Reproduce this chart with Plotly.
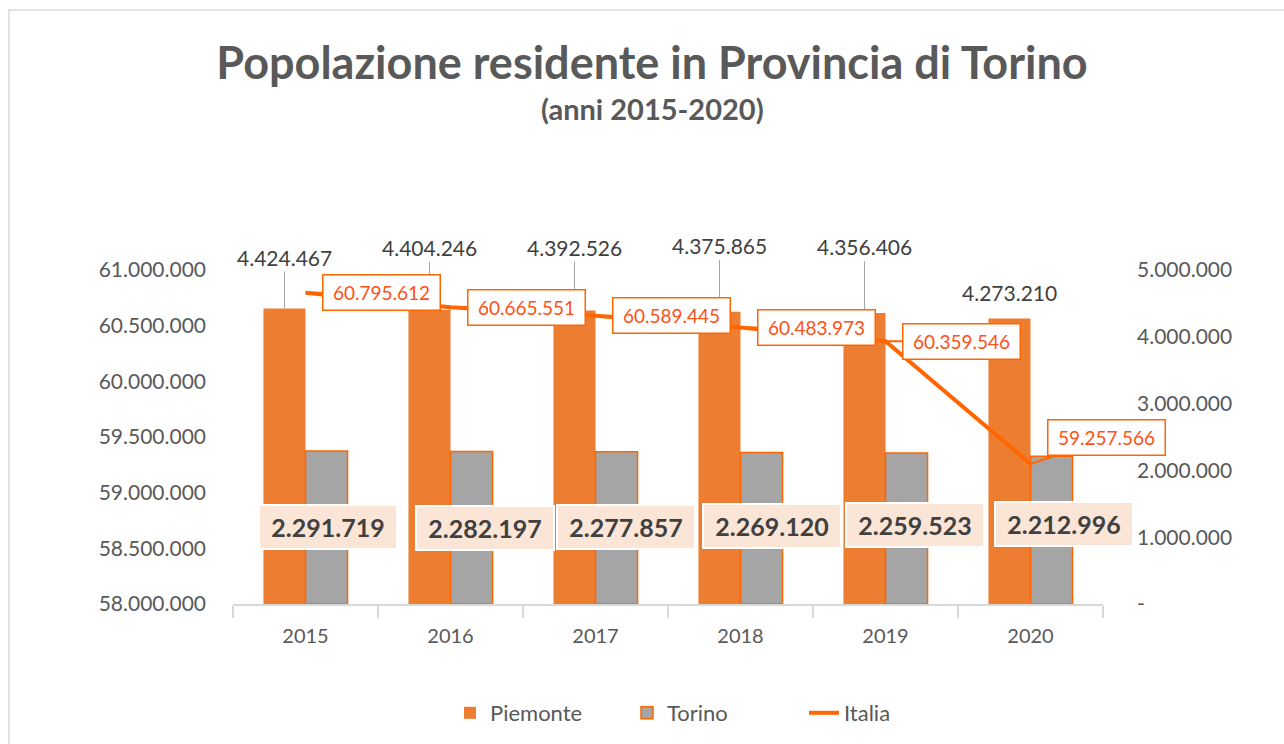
import plotly.graph_objects as go

# ---------------- data ----------------
years = ["2015", "2016", "2017", "2018", "2019", "2020"]
piemonte = [4424467, 4404246, 4392526, 4375865, 4356406, 4273210]
torino = [2291719, 2282197, 2277857, 2269120, 2259523, 2212996]
italia = [60795612, 60665551, 60589445, 60483973, 60359546, 59257566]

left_tickvals = [58000000, 58500000, 59000000, 59500000, 60000000, 60500000, 61000000]
left_ticktext = ["58.000.000", "58.500.000", "59.000.000", "59.500.000",
                 "60.000.000", "60.500.000", "61.000.000"]
right_tickvals = [0, 1000000, 2000000, 3000000, 4000000, 5000000]
right_ticktext = ["-", "1.000.000", "2.000.000", "3.000.000", "4.000.000", "5.000.000"]

# ---------------- style ----------------
FONT = "Lato"
GREY_TXT = "#595959"
DARK_TXT = "#404040"
ORANGE_BAR = "#ED7D31"
ORANGE_LINE = "#FF6600"
ORANGE_TXT = "#FF5015"
GREY_BAR = "#A5A5A5"
AXIS_LINE = "#D9D9D9"

W, H = 1284, 744
L, R, T, B = 233, 1103, 270, 604  # plot area in px

# label offsets (pixels) - style only
piem_leader = [-51, -62, -63, -66, -66, None]
piem_plain_shift = 26
tor_xshift = [22, 34, 30, 31, 29, 33]
tor_yshift = [0, 0, 1, 2, 4, 6]
ita_ax = [76, 76, 76, 76, 76, 76]
ita_ay = [0, 0, 0, 0, 0, -26]


def fmt(v):
    return f"{v:,}".replace(",", ".")


fig = go.Figure()
fig.add_trace(go.Bar(
    name="Piemonte", x=years, y=piemonte, yaxis="y",
    marker=dict(color=ORANGE_BAR, line=dict(width=0)),
    hoverinfo="skip",
))
fig.add_trace(go.Bar(
    name="Torino", x=years, y=torino, yaxis="y",
    marker=dict(color=GREY_BAR, line=dict(color=ORANGE_LINE, width=1.5)),
    hoverinfo="skip",
))
fig.add_trace(go.Scatter(
    name="Italia", x=years, y=italia, yaxis="y2", mode="lines",
    line=dict(color=ORANGE_LINE, width=4),
    hoverinfo="skip",
))

annotations = []
# Piemonte labels with leader lines (x given as category index)
for i, v in enumerate(piemonte):
    if piem_leader[i] is not None:
        annotations.append(dict(
            x=i, y=v, xref="x", yref="y", xshift=-21,
            text=fmt(v), showarrow=True, arrowhead=0, arrowwidth=1,
            arrowcolor="#A6A6A6", ax=0, ay=piem_leader[i], standoff=0,
            font=dict(family=FONT, size=21, color=DARK_TXT),
        ))
    else:
        annotations.append(dict(
            x=i, y=v, xref="x", yref="y", xshift=-21, yshift=piem_plain_shift,
            text=fmt(v), showarrow=False,
            font=dict(family=FONT, size=21, color=DARK_TXT),
        ))

# Torino labels (centre of bar)
for i, v in enumerate(torino):
    annotations.append(dict(
        x=i, y=v / 2, xref="x", yref="y",
        xshift=tor_xshift[i], yshift=tor_yshift[i],
        text="<b>" + fmt(v) + "</b>", showarrow=False,
        bgcolor="#FBE5D6", bordercolor="#FFFFFF", borderwidth=2, borderpad=6,
        width=124, height=30,
        font=dict(family=FONT, size=25, color=DARK_TXT),
    ))

# Italia callouts
for i, v in enumerate(italia):
    annotations.append(dict(
        x=i, y=v, xref="x", yref="y2",
        text=fmt(v), showarrow=True, arrowhead=0, arrowwidth=2,
        arrowcolor=ORANGE_LINE, ax=ita_ax[i], ay=ita_ay[i],
        bgcolor="#FFFFFF", bordercolor=ORANGE_LINE, borderwidth=1.5, borderpad=5,
        width=106, height=24,
        font=dict(family=FONT, size=19, color=ORANGE_TXT),
    ))

# subtitle
annotations.append(dict(
    x=(652 - L) / (R - L), y=(B - 108) / (B - T), xref="paper", yref="paper",
    text="<b>(anni 2015-2020)</b>", showarrow=False,
    xanchor="center", yanchor="middle",
    font=dict(family=FONT, size=29, color=GREY_TXT),
))

fig.update_layout(
    width=W, height=H,
    margin=dict(l=L, r=W - R, t=T, b=H - B, pad=0),
    paper_bgcolor="#FFFFFF", plot_bgcolor="#FFFFFF",
    separators=",.",
    barmode="group", bargap=0.42, bargroupgap=0,
    title=dict(
        text="<b>Popolazione residente in Provincia di Torino</b>",
        x=652 / W, xref="container", xanchor="center",
        y=1 - 63 / H, yref="container", yanchor="middle",
        font=dict(family=FONT, size=45, color=GREY_TXT),
    ),
    font=dict(family=FONT, color=GREY_TXT),
    xaxis=dict(
        type="category", range=[-0.5, 5.5], autorange=False,
        showgrid=False, zeroline=False,
        showline=True, linecolor=AXIS_LINE, linewidth=1.5,
        ticks="outside", tickson="boundaries", ticklen=12,
        tickcolor=AXIS_LINE, tickwidth=1.5, ticklabelstandoff=13,
        tickfont=dict(family=FONT, size=20, color=GREY_TXT),
    ),
    yaxis=dict(
        side="right", range=[0, 5000000], autorange=False,
        showgrid=False, zeroline=False,
        showline=False, tickvals=right_tickvals, ticktext=right_ticktext,
        ticks="", ticklabelstandoff=33,
        tickfont=dict(family=FONT, size=21, color=GREY_TXT),
    ),
    yaxis2=dict(
        side="left", overlaying="y", range=[58000000, 61000000], autorange=False,
        showgrid=False, zeroline=False, showline=False,
        tickvals=left_tickvals, ticktext=left_ticktext,
        ticks="", ticklabelstandoff=26,
        tickfont=dict(family=FONT, size=21, color=GREY_TXT),
    ),
    legend=dict(
        orientation="h", x=450 / W, xref="container", xanchor="left",
        y=1 - 713 / H, yref="container", yanchor="middle",
        font=dict(family=FONT, size=22, color=GREY_TXT),
        traceorder="normal", entrywidth=132, entrywidthmode="pixels",
    ),
    annotations=annotations,
    shapes=[dict(
        type="rect", xref="paper", yref="paper",
        x0=(9 - L) / (R - L), x1=1.6, y0=-1.0, y1=(B - 10) / (B - T),
        line=dict(color=AXIS_LINE, width=1.5), fillcolor="rgba(0,0,0,0)",
        layer="below",
    )],
)

fig.write_html("out.html", config={"displayModeBar": False},
               post_script="document.body.style.margin='0px';")
